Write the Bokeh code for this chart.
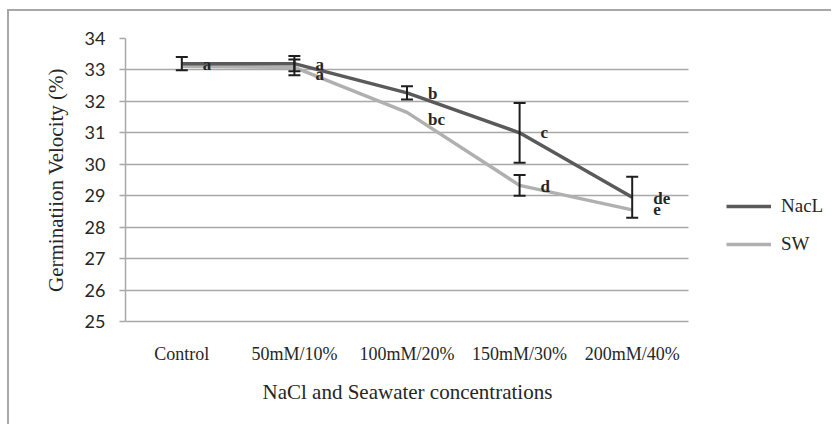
from bokeh.plotting import figure
from bokeh.models import (ColumnDataSource, Whisker, Legend, LegendItem, TeeHead,
                          Range1d, FixedTicker, Grid, Title)
from bokeh.core.properties import value
from bokeh.embed import file_html
from bokeh.resources import INLINE

# ---- data ----
categories = ["Control", "50mM/10%", "100mM/20%", "150mM/30%", "200mM/40%"]
nacl = [33.2, 33.2, 32.27, 31.0, 28.95]
nacl_err = [0.21, 0.24, 0.21, 0.95, 0.65]
sw = [33.12, 33.08, 31.65, 29.33, 28.55]
sw_err = [0.0, 0.25, 0.0, 0.33, 0.0]
nacl_letters = ["a", "a", "b", "c", "de"]
sw_letters = ["", "a", "bc", "d", "e"]
y_ticks = [25, 26, 27, 28, 29, 30, 31, 32, 33, 34]

# label vertical nudges (screen px, style only)
nacl_label_dy = [1, 1, 1, 0, 1.5]
sw_label_dy = [0, 7, 7, 1.5, 0]

NACL_COL = "#5a5a5a"
SW_COL = "#b0b0b0"
GRID = "#a8a8a8"
TXT = "#262626"
SERIF = "Liberation Serif"

n = len(categories)
xs = [i + 0.5 for i in range(n)]          # category centres on a 0..n scale
W, H, LEFT, TOP, BOTTOM = 831, 424, 125, 38, 103
plot_w = 563                              # width of the category area
frame_w = W - LEFT
x_end = n * frame_w / plot_w              # extra room on the right for the legend

p = figure(x_range=Range1d(0, x_end), y_range=Range1d(25, 34),
           width=W, height=H, output_backend="svg", toolbar_location=None,
           min_border_left=LEFT, min_border_right=0, min_border_top=TOP,
           min_border_bottom=BOTTOM)
p.border_fill_color = None
p.background_fill_color = None
p.outline_line_color = None
p.styles = {"box-shadow": "inset 7px 9px 0 0 #ffffff, inset 9px 11px 0 0 #a8a8a8"}

# grid
p.xgrid.grid_line_color = None
p.ygrid.ticker = FixedTicker(ticks=y_ticks)
if "cross_bounds" in Grid.properties():
    p.ygrid.grid_line_color = GRID
    p.ygrid.grid_line_width = 1.5
    p.ygrid.cross_bounds = (0, n)
else:
    p.ygrid.grid_line_color = None
    p.segment(x0=[0] * len(y_ticks), x1=[n] * len(y_ticks), y0=y_ticks, y1=y_ticks,
              line_color=GRID, line_width=1.5, level="underlay")

# y axis
p.yaxis.ticker = FixedTicker(ticks=y_ticks)
p.yaxis.axis_line_color = GRID
p.yaxis.axis_line_width = 1.5
p.yaxis.major_tick_line_color = GRID
p.yaxis.major_tick_line_width = 1.5
p.yaxis.major_tick_out = 6
p.yaxis.major_tick_in = 0
p.yaxis.minor_tick_line_color = None
p.yaxis.major_label_text_font = "Lato"
p.yaxis.major_label_text_font_size = "18px"
p.yaxis.major_label_text_color = TXT
p.yaxis.major_label_standoff = 14
p.yaxis.axis_label = "Germinatiion Velocity (%)"
p.yaxis.axis_label_text_font = SERIF
p.yaxis.axis_label_text_font_size = "21px"
p.yaxis.axis_label_text_font_style = "normal"
p.yaxis.axis_label_text_color = TXT
p.yaxis.axis_label_standoff = 14

# x axis
p.xaxis.ticker = FixedTicker(ticks=xs)
p.xaxis.major_label_overrides = {x: c for x, c in zip(xs, categories)}
p.xaxis.bounds = (0, n)
p.xaxis.axis_line_color = GRID
p.xaxis.axis_line_width = 1.5
p.xaxis.major_tick_line_color = None
p.xaxis.minor_tick_line_color = None
p.xaxis.major_tick_out = 0
p.xaxis.major_tick_in = 0
p.xaxis.major_label_text_font = SERIF
p.xaxis.major_label_text_font_size = "18px"
p.xaxis.major_label_text_color = TXT
p.xaxis.major_label_standoff = 22

# x-axis title, centred under the category area
xtitle = Title(text="NaCl and Seawater concentrations", align="left", offset=137,
               standoff=23, text_font=SERIF, text_font_size="21px",
               text_font_style="normal", text_color=TXT)
p.add_layout(xtitle, "below")

# lines
src = ColumnDataSource(dict(x=xs, nacl=nacl, sw=sw))
r_sw = p.line(x="x", y="sw", source=src, line_color=SW_COL, line_width=3.5)
r_nacl = p.line(x="x", y="nacl", source=src, line_color=NACL_COL, line_width=3.5)

# error bars (only where an error is drawn)
ex, eu, el = [], [], []
for x, v, e in list(zip(xs, nacl, nacl_err)) + list(zip(xs, sw, sw_err)):
    if e > 0:
        ex.append(x)
        eu.append(v + e)
        el.append(v - e)
err_src = ColumnDataSource(dict(x=ex, upper=eu, lower=el))
wk = Whisker(source=err_src, base="x", upper="upper", lower="lower",
             line_color="#1e1e1e", line_width=2, level="overlay",
             upper_head=TeeHead(size=12, line_width=2, line_color="#1e1e1e"),
             lower_head=TeeHead(size=12, line_width=2, line_color="#1e1e1e"))
p.add_layout(wk)

# significance letters
lx, ly, lt, ldy = [], [], [], []
for x, v, t, d in list(zip(xs, nacl, nacl_letters, nacl_label_dy)) + \
        list(zip(xs, sw, sw_letters, sw_label_dy)):
    if t:
        lx.append(x); ly.append(v); lt.append(t); ldy.append(d)
lab_src = ColumnDataSource(dict(x=lx, y=ly, t=lt, dy=ldy))
p.text(x="x", y="y", text="t", source=lab_src, x_offset=21, y_offset="dy",
       text_align="left", text_baseline="middle", text_font=value(SERIF),
       text_font_style="bold", text_font_size=value("17px"), text_color=TXT)

# legend
legend = Legend(items=[LegendItem(label="NacL", renderers=[r_nacl]),
                       LegendItem(label="SW", renderers=[r_sw])],
                location=(601, 66), orientation="vertical",
                glyph_width=45, glyph_height=20, label_standoff=10, spacing=16,
                padding=0, margin=0, border_line_color=None,
                background_fill_alpha=0, label_text_font=SERIF,
                label_text_font_size="19px", label_text_color=TXT)
p.add_layout(legend)

open("out.html", "w").write(file_html(p, INLINE))
